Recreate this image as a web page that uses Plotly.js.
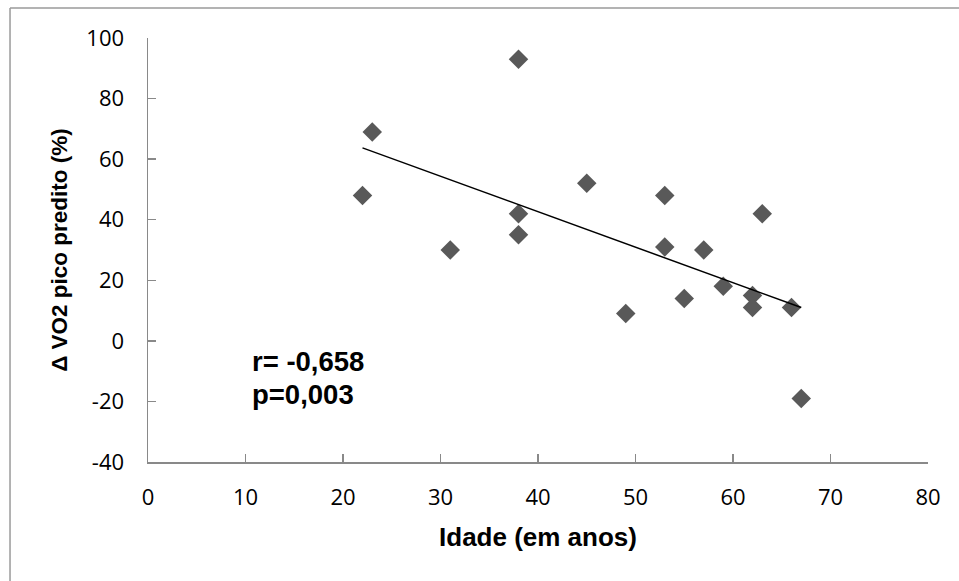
<!DOCTYPE html>
<html>
<head>
<meta charset="utf-8">
<script src="https://cdn.plot.ly/plotly-3.0.1.min.js"></script>
<style>html,body{margin:0;padding:0;background:#fff;}#chart{width:959px;height:581px;}</style>
</head>
<body>
<div id="chart"></div>
<script>
const idade = [22, 23, 31, 38, 38, 38, 45, 49, 53, 53, 55, 57, 59, 62, 62, 63, 66, 67];
const deltaVO2 = [48, 69, 30, 93, 42, 35, 52, 9, 48, 31, 14, 30, 18, 15, 11, 42, 11, -19];
const xTicks = [0, 10, 20, 30, 40, 50, 60, 70, 80];
const yTicks = [-40, -20, 0, 20, 40, 60, 80, 100];
const statLabels = ["r= -0,658", "p=0,003"];

// least-squares trendline from the data
const n = idade.length;
const mx = idade.reduce((a, b) => a + b, 0) / n;
const my = deltaVO2.reduce((a, b) => a + b, 0) / n;
let sxy = 0, sxx = 0;
for (let i = 0; i < n; i++) { sxy += (idade[i] - mx) * (deltaVO2[i] - my); sxx += (idade[i] - mx) ** 2; }
const slope = sxy / sxx, intercept = my - slope * mx;
const xmin = Math.min(...idade), xmax = Math.max(...idade);
const lineX = [xmin, xmax];
const lineY = lineX.map(x => intercept + slope * x);

const axisColor = '#898989';
const tickFont = {family: 'Open Sans, sans-serif', size: 22, color: '#000'};
const xTitleFont = {family: 'Liberation Sans, Arial, sans-serif', size: 26, color: '#000', weight: 'bold'};
const yTitleFont = {family: 'Liberation Sans, Arial, sans-serif', size: 22.5, color: '#000', weight: 'bold'};
const annFont = {family: 'Liberation Sans, Arial, sans-serif', size: 27.5, color: '#000', weight: 'bold'};

const traces = [
  {x: idade, y: deltaVO2, type: 'scatter', mode: 'markers',
   marker: {symbol: 'diamond', size: 15, color: '#595959'}, showlegend: false, hoverinfo: 'x+y'},
  {x: lineX, y: lineY, type: 'scatter', mode: 'lines',
   line: {color: '#000', width: 1.5}, showlegend: false, hoverinfo: 'skip'}
];

const layout = {
  width: 959, height: 581,
  margin: {l: 148, r: 31, t: 38, b: 119},
  paper_bgcolor: '#fff', plot_bgcolor: '#fff',
  xaxis: {range: [0, 80], tickvals: xTicks, ticktext: xTicks.map(String),
    showgrid: false, zeroline: false, showline: true, linecolor: axisColor, linewidth: 1.5,
    ticks: 'inside', ticklen: 8, tickcolor: axisColor, tickwidth: 1.5, ticklabelstandoff: 15,
    tickfont: tickFont,
    title: {text: 'Idade (em anos)', font: xTitleFont, standoff: 18}},
  yaxis: {range: [-40, 100], tickvals: yTicks, ticktext: yTicks.map(String),
    showgrid: false, zeroline: false, showline: true, linecolor: axisColor, linewidth: 1.5,
    ticks: 'inside', ticklen: 8, tickcolor: axisColor, tickwidth: 1.5, ticklabelstandoff: 18,
    tickfont: tickFont,
    title: {text: 'Δ VO2 pico predito (%)', font: yTitleFont, standoff: 12}},
  annotations: [
    {x: 10.5, y: -6.7, xref: 'x', yref: 'y', text: statLabels[0], showarrow: false,
     xanchor: 'left', yanchor: 'middle', font: annFont},
    {x: 10.5, y: -17.7, xref: 'x', yref: 'y', text: statLabels[1], showarrow: false,
     xanchor: 'left', yanchor: 'middle', font: annFont}
  ],
  shapes: [
    {type: 'line', xref: 'paper', yref: 'paper', x0: -0.1769, x1: -0.1769, y0: -0.3, y1: 1.0708,
     line: {color: '#9a9a9a', width: 1.5}},
    {type: 'line', xref: 'paper', yref: 'paper', x0: -0.1769, x1: 1.05, y0: 1.0708, y1: 1.0708,
     line: {color: '#9a9a9a', width: 1.5}}
  ]
};

Plotly.newPlot('chart', traces, layout, {displayModeBar: false, staticPlot: true});
</script>
</body>
</html>
